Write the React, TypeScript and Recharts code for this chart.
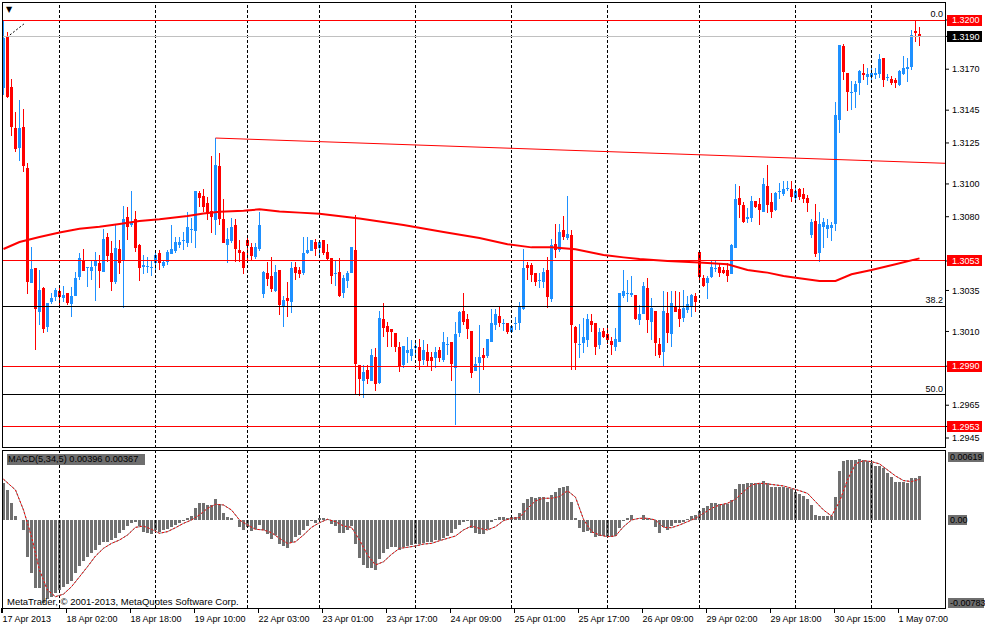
import React from 'react';
import { ComposedChart, Bar, Line, XAxis, YAxis, ReferenceLine } from 'recharts';

const FONT = '"Liberation Sans", Arial, sans-serif';
const BULL = '#1E90FF';
const BEAR = '#FF0000';
const HIST = '#707070';

// --- x axis: one label every 16 hourly bars ---
const timeLabels = [
  '17 Apr 2013', '18 Apr 02:00', '18 Apr 18:00', '19 Apr 10:00', '22 Apr 03:00',
  '23 Apr 01:00', '23 Apr 17:00', '24 Apr 09:00', '25 Apr 01:00', '25 Apr 17:00',
  '26 Apr 09:00', '29 Apr 02:00', '29 Apr 18:00', '30 Apr 15:00', '1 May 07:00',
];
const labelStep = 16;
// bar index of each day separator (dashed grid)
const dayBreaks = [14, 38, 61, 79, 103, 127, 151, 174, 198, 217];

// --- EURUSD H1 candles [open, high, low, close] ---
const ohlc: [number, number, number, number][] = [
  [1.31583, 1.31994, 1.31543, 1.31888], [1.31902, 1.31929, 1.31524, 1.31528], [1.31593, 1.31638, 1.31294, 1.31345],
  [1.31343, 1.31441, 1.31197, 1.31215], [1.31221, 1.31512, 1.31142, 1.31343], [1.31349, 1.31457, 1.31075, 1.31111],
  [1.31099, 1.31126, 1.30329, 1.30404], [1.30394, 1.30617, 1.30394, 1.30479], [1.30487, 1.30487, 1.29987, 1.30235],
  [1.30221, 1.30475, 1.30140, 1.30353], [1.30367, 1.30373, 1.30089, 1.30113], [1.30125, 1.30272, 1.30099, 1.30272],
  [1.30280, 1.30337, 1.30266, 1.30306], [1.30312, 1.30367, 1.30286, 1.30353], [1.30347, 1.30373, 1.30261, 1.30312],
  [1.30302, 1.30377, 1.30282, 1.30322], [1.30337, 1.30337, 1.30261, 1.30272], [1.30266, 1.30373, 1.30190, 1.30316],
  [1.30318, 1.30461, 1.30318, 1.30428], [1.30434, 1.30581, 1.30414, 1.30550], [1.30536, 1.30601, 1.30471, 1.30471],
  [1.30489, 1.30495, 1.30373, 1.30491], [1.30471, 1.30536, 1.30414, 1.30495], [1.30501, 1.30583, 1.30288, 1.30530],
  [1.30516, 1.30565, 1.30363, 1.30471], [1.30461, 1.30725, 1.30461, 1.30662], [1.30674, 1.30699, 1.30522, 1.30562],
  [1.30577, 1.30652, 1.30349, 1.30404], [1.30404, 1.30756, 1.30390, 1.30611], [1.30601, 1.30658, 1.30451, 1.30520],
  [1.30532, 1.30865, 1.30241, 1.30784], [1.30796, 1.30861, 1.30658, 1.30735], [1.30749, 1.30957, 1.30735, 1.30770],
  [1.30784, 1.30835, 1.30587, 1.30611], [1.30626, 1.30634, 1.30410, 1.30485], [1.30491, 1.30566, 1.30451, 1.30505],
  [1.30493, 1.30556, 1.30455, 1.30498], [1.30485, 1.30536, 1.30440, 1.30495], [1.30516, 1.30577, 1.30455, 1.30566],
  [1.30581, 1.30597, 1.30475, 1.30516], [1.30499, 1.30536, 1.30485, 1.30526], [1.30526, 1.30597, 1.30505, 1.30587],
  [1.30573, 1.30749, 1.30573, 1.30603], [1.30593, 1.30678, 1.30581, 1.30648], [1.30627, 1.30678, 1.30607, 1.30648],
  [1.30654, 1.30709, 1.30597, 1.30656], [1.30642, 1.30831, 1.30613, 1.30735], [1.30723, 1.30790, 1.30638, 1.30727],
  [1.30715, 1.30957, 1.30611, 1.30957], [1.30947, 1.30959, 1.30861, 1.30912], [1.30926, 1.30967, 1.30831, 1.30861],
  [1.30882, 1.30922, 1.30780, 1.30825], [1.30835, 1.31170, 1.30703, 1.30796], [1.30780, 1.31278, 1.30688, 1.31115],
  [1.31109, 1.31187, 1.30749, 1.30784], [1.30784, 1.30906, 1.30642, 1.30642], [1.30627, 1.30729, 1.30516, 1.30662],
  [1.30654, 1.30794, 1.30638, 1.30739], [1.30749, 1.30784, 1.30526, 1.30601], [1.30597, 1.30658, 1.30526, 1.30577],
  [1.30583, 1.30593, 1.30451, 1.30489], [1.30658, 1.30682, 1.30520, 1.30621], [1.30617, 1.30638, 1.30536, 1.30560],
  [1.30552, 1.30638, 1.30540, 1.30613], [1.30601, 1.30831, 1.30593, 1.30749], [1.30329, 1.30471, 1.30302, 1.30461],
  [1.30455, 1.30526, 1.30379, 1.30420], [1.30438, 1.30552, 1.30343, 1.30357], [1.30347, 1.30505, 1.30343, 1.30461],
  [1.30475, 1.30475, 1.30200, 1.30261], [1.30251, 1.30318, 1.30129, 1.30292], [1.30302, 1.30404, 1.30190, 1.30288],
  [1.30282, 1.30522, 1.30215, 1.30489], [1.30491, 1.30522, 1.30414, 1.30459], [1.30475, 1.30495, 1.30424, 1.30451],
  [1.30459, 1.30674, 1.30444, 1.30581], [1.30581, 1.30674, 1.30573, 1.30597], [1.30593, 1.30658, 1.30593, 1.30658],
  [1.30644, 1.30664, 1.30560, 1.30601], [1.30611, 1.30658, 1.30556, 1.30648], [1.30658, 1.30658, 1.30566, 1.30577],
  [1.30583, 1.30634, 1.30530, 1.30542], [1.30546, 1.30546, 1.30388, 1.30440], [1.30451, 1.30536, 1.30377, 1.30455],
  [1.30461, 1.30546, 1.30312, 1.30318], [1.30333, 1.30444, 1.30302, 1.30428], [1.30410, 1.30469, 1.30363, 1.30455],
  [1.30459, 1.30617, 1.30459, 1.30613], [1.30597, 1.30810, 1.29712, 1.29900], [1.29895, 1.29895, 1.29708, 1.29810],
  [1.29800, 1.29895, 1.29696, 1.29855], [1.29865, 1.29895, 1.29778, 1.29810], [1.29800, 1.29993, 1.29800, 1.29956],
  [1.29942, 1.29997, 1.29737, 1.29778], [1.29788, 1.30225, 1.29778, 1.30180], [1.30174, 1.30272, 1.30068, 1.30123],
  [1.30133, 1.30160, 1.30007, 1.30099], [1.30115, 1.30115, 1.30007, 1.30095], [1.30089, 1.30089, 1.29977, 1.30003],
  [1.30007, 1.30034, 1.29851, 1.29889], [1.29895, 1.30011, 1.29879, 1.30011], [1.29971, 1.30064, 1.29906, 1.29987],
  [1.29952, 1.30048, 1.29920, 1.29993], [1.30001, 1.30038, 1.29946, 1.30011], [1.30003, 1.30054, 1.29865, 1.29922],
  [1.29926, 1.30048, 1.29895, 1.29987], [1.29973, 1.30024, 1.29885, 1.29922], [1.29946, 1.29977, 1.29861, 1.29922],
  [1.29940, 1.30007, 1.29879, 1.29977], [1.29987, 1.30007, 1.29916, 1.29940], [1.29926, 1.30095, 1.29916, 1.30034],
  [1.30022, 1.30068, 1.29956, 1.30025], [1.30034, 1.30034, 1.29800, 1.29900], [1.29879, 1.30160, 1.29530, 1.30085],
  [1.30089, 1.30225, 1.30068, 1.30217], [1.30225, 1.30333, 1.30140, 1.30160], [1.30176, 1.30205, 1.30054, 1.30115],
  [1.30103, 1.30103, 1.29814, 1.29849], [1.29859, 1.29946, 1.29859, 1.29900], [1.29906, 1.30140, 1.29723, 1.29946],
  [1.29956, 1.29997, 1.29865, 1.29940], [1.29952, 1.30054, 1.29936, 1.30054], [1.30038, 1.30237, 1.30038, 1.30154],
  [1.30140, 1.30237, 1.30109, 1.30207], [1.30194, 1.30255, 1.30129, 1.30150], [1.30147, 1.30174, 1.30105, 1.30150],
  [1.30154, 1.30154, 1.30083, 1.30099], [1.30095, 1.30135, 1.30089, 1.30135], [1.30146, 1.30190, 1.30109, 1.30150],
  [1.30150, 1.30278, 1.30109, 1.30257], [1.30237, 1.30603, 1.30231, 1.30489], [1.30505, 1.30522, 1.30414, 1.30485],
  [1.30505, 1.30516, 1.30404, 1.30444], [1.30459, 1.30459, 1.30377, 1.30404], [1.30408, 1.30455, 1.30367, 1.30412],
  [1.30404, 1.30485, 1.30367, 1.30461], [1.30475, 1.30556, 1.30241, 1.30312], [1.30298, 1.30664, 1.30282, 1.30627],
  [1.30632, 1.30754, 1.30546, 1.30597], [1.30597, 1.30754, 1.30587, 1.30709], [1.30719, 1.30806, 1.30658, 1.30678],
  [1.30672, 1.30928, 1.30658, 1.30693], [1.30688, 1.30719, 1.29865, 1.30140], [1.30129, 1.30135, 1.29865, 1.30032],
  [1.30022, 1.30144, 1.29940, 1.30025], [1.30032, 1.30180, 1.29967, 1.30068], [1.30048, 1.30207, 1.30003, 1.30176],
  [1.30164, 1.30207, 1.30099, 1.30140], [1.30150, 1.30150, 1.29956, 1.30007], [1.30017, 1.30123, 1.29993, 1.30099],
  [1.30103, 1.30123, 1.30058, 1.30068], [1.30083, 1.30129, 1.30022, 1.30048], [1.30044, 1.30068, 1.29956, 1.30017],
  [1.30007, 1.30119, 1.29981, 1.30054], [1.30038, 1.30337, 1.30038, 1.30337], [1.30318, 1.30475, 1.30302, 1.30347],
  [1.30329, 1.30414, 1.30282, 1.30333], [1.30322, 1.30440, 1.30312, 1.30337], [1.30322, 1.30322, 1.30170, 1.30176],
  [1.30170, 1.30261, 1.30140, 1.30207], [1.30205, 1.30404, 1.30205, 1.30377], [1.30363, 1.30424, 1.30093, 1.30170],
  [1.30160, 1.30302, 1.30048, 1.30241], [1.30225, 1.30225, 1.29950, 1.30032], [1.30024, 1.30062, 1.29940, 1.29956],
  [1.29973, 1.30347, 1.29891, 1.30225], [1.30211, 1.30343, 1.30028, 1.30093], [1.30083, 1.30347, 1.30003, 1.30272],
  [1.30251, 1.30347, 1.30221, 1.30221], [1.30237, 1.30343, 1.30129, 1.30174], [1.30180, 1.30353, 1.30156, 1.30241],
  [1.30231, 1.30318, 1.30211, 1.30268], [1.30251, 1.30329, 1.30190, 1.30322], [1.30316, 1.30333, 1.30221, 1.30282],
  [1.30583, 1.30583, 1.30408, 1.30434], [1.30424, 1.30444, 1.30373, 1.30379], [1.30394, 1.30440, 1.30298, 1.30428],
  [1.30434, 1.30536, 1.30424, 1.30491], [1.30485, 1.30536, 1.30465, 1.30489], [1.30491, 1.30516, 1.30434, 1.30459],
  [1.30475, 1.30495, 1.30449, 1.30459], [1.30475, 1.30516, 1.30404, 1.30440], [1.30451, 1.30632, 1.30451, 1.30627],
  [1.30611, 1.30998, 1.30607, 1.30908], [1.30912, 1.30987, 1.30794, 1.30871], [1.30871, 1.30888, 1.30760, 1.30770],
  [1.30784, 1.30855, 1.30760, 1.30800], [1.30794, 1.30928, 1.30770, 1.30896], [1.30896, 1.30896, 1.30851, 1.30861],
  [1.30876, 1.30912, 1.30749, 1.30841], [1.30831, 1.31034, 1.30831, 1.30998], [1.30987, 1.31115, 1.30821, 1.30871],
  [1.30892, 1.30943, 1.30794, 1.30831], [1.30841, 1.30953, 1.30835, 1.30943], [1.30955, 1.31004, 1.30908, 1.30959],
  [1.30939, 1.31018, 1.30928, 1.30969], [1.30973, 1.31018, 1.30957, 1.30977], [1.30969, 1.31018, 1.30892, 1.30922],
  [1.30912, 1.30977, 1.30902, 1.30957], [1.30969, 1.30977, 1.30902, 1.30922], [1.30937, 1.30973, 1.30882, 1.30908],
  [1.30912, 1.30932, 1.30827, 1.30882], [1.30688, 1.30786, 1.30672, 1.30766], [1.30774, 1.30878, 1.30556, 1.30571],
  [1.30577, 1.30831, 1.30522, 1.30756], [1.30739, 1.30790, 1.30611, 1.30766], [1.30723, 1.30786, 1.30672, 1.30749],
  [1.30729, 1.30770, 1.30652, 1.30749], [1.30754, 1.31498, 1.30713, 1.31420], [1.31390, 1.31847, 1.31309, 1.31847],
  [1.31843, 1.31852, 1.31634, 1.31685], [1.31675, 1.31675, 1.31445, 1.31563], [1.31559, 1.31628, 1.31451, 1.31563],
  [1.31563, 1.31628, 1.31465, 1.31608], [1.31614, 1.31695, 1.31542, 1.31689], [1.31675, 1.31730, 1.31634, 1.31664],
  [1.31654, 1.31705, 1.31603, 1.31669], [1.31654, 1.31705, 1.31624, 1.31675], [1.31664, 1.31705, 1.31640, 1.31675],
  [1.31669, 1.31791, 1.31644, 1.31762], [1.31766, 1.31766, 1.31593, 1.31634], [1.31650, 1.31669, 1.31628, 1.31654],
  [1.31640, 1.31660, 1.31603, 1.31618], [1.31634, 1.31644, 1.31587, 1.31618], [1.31603, 1.31695, 1.31599, 1.31689],
  [1.31669, 1.31782, 1.31664, 1.31709], [1.31701, 1.31766, 1.31624, 1.31715], [1.31715, 1.31939, 1.31695, 1.31908],
  [1.31935, 1.32000, 1.31868, 1.31919], [1.31913, 1.31959, 1.31843, 1.31904],
];

// --- moving average readings [bar index, price] ---
const maPoints: [number, number][] = [
  [0, 1.30603], [4, 1.30646], [9, 1.30676], [14, 1.30704], [19, 1.30727], [24, 1.30739], [29, 1.30756],
  [34, 1.30774], [39, 1.30784], [46, 1.30804], [50, 1.30820], [54, 1.30831], [60, 1.30837], [64, 1.30845],
  [69, 1.30832], [74, 1.30825], [79, 1.30818], [89, 1.30789], [100, 1.30750], [110, 1.30707], [119, 1.30670],
  [126, 1.30632], [132, 1.30613], [137, 1.30613], [143, 1.30601], [150, 1.30567], [155, 1.30552], [159, 1.30542],
  [166, 1.30530], [174, 1.30520], [181, 1.30510], [186, 1.30475], [191, 1.30459], [195, 1.30438], [199, 1.30424],
  [204, 1.30408], [208, 1.30408], [212, 1.30449], [217, 1.30475], [223, 1.30510], [229, 1.30546],
];

// --- MACD(5,34,5) histogram, one value per bar ---
const macdHist = [
  0.00337, 0.00271, 0.00158, 0.00039, 0.00003, -0.00086, -0.00331, -0.00468, -0.00602, -0.00608,
  -0.00736, -0.00706, -0.00682, -0.00653, -0.00623, -0.00593, -0.00569, -0.00539, -0.00474, -0.00408,
  -0.00361, -0.00331, -0.00295, -0.00265, -0.00221, -0.00191, -0.00191, -0.00176, -0.00161, -0.00116,
  -0.00086, -0.00051, -0.00021, -0.00015, -0.00051, -0.00101, -0.00116, -0.00125, -0.00086, -0.00101,
  -0.00086, -0.00075, -0.00063, -0.00042, -0.00027, -0.00006, 0.00024, 0.00039, 0.00113, 0.00152,
  0.00152, 0.00137, 0.00137, 0.00188, 0.00146, 0.00063, 0.00027, 0.00018, 0.00000, -0.00057,
  -0.00086, -0.00063, -0.00095, -0.00080, -0.00042, -0.00086, -0.00125, -0.00167, -0.00131, -0.00215,
  -0.00229, -0.00244, -0.00191, -0.00152, -0.00131, -0.00086, -0.00048, -0.00006, -0.00027, 0.00018,
  0.00018, 0.00009, -0.00033, -0.00051, -0.00110, -0.00110, -0.00086, -0.00051, -0.00212, -0.00334,
  -0.00399, -0.00429, -0.00423, -0.00444, -0.00346, -0.00295, -0.00256, -0.00235, -0.00241, -0.00265,
  -0.00241, -0.00229, -0.00221, -0.00212, -0.00212, -0.00206, -0.00191, -0.00197, -0.00176, -0.00176,
  -0.00155, -0.00140, -0.00116, -0.00080, -0.00042, -0.00015, -0.00006, -0.00066, -0.00110, -0.00125,
  -0.00125, -0.00080, -0.00012, 0.00015, 0.00027, 0.00027, 0.00024, 0.00027, 0.00033, 0.00063,
  0.00158, 0.00188, 0.00212, 0.00197, 0.00206, 0.00206, 0.00167, 0.00226, 0.00250, 0.00286,
  0.00295, 0.00307, 0.00167, 0.00018, -0.00066, -0.00104, -0.00095, -0.00116, -0.00146, -0.00140,
  -0.00140, -0.00146, -0.00152, -0.00140, -0.00066, -0.00006, 0.00024, 0.00048, 0.00003, 0.00003,
  0.00048, 0.00018, 0.00009, -0.00063, -0.00110, -0.00063, -0.00086, -0.00051, -0.00027, -0.00027,
  -0.00012, 0.00012, 0.00039, 0.00048, 0.00086, 0.00107, 0.00128, 0.00152, 0.00158, 0.00146,
  0.00146, 0.00146, 0.00182, 0.00280, 0.00325, 0.00325, 0.00331, 0.00337, 0.00331, 0.00331,
  0.00352, 0.00331, 0.00301, 0.00301, 0.00301, 0.00301, 0.00292, 0.00277, 0.00256, 0.00235,
  0.00218, 0.00188, 0.00137, 0.00048, 0.00039, 0.00039, 0.00039, 0.00039, 0.00212, 0.00441,
  0.00530, 0.00539, 0.00539, 0.00539, 0.00545, 0.00539, 0.00533, 0.00516, 0.00489, 0.00489,
  0.00465, 0.00420, 0.00384, 0.00346, 0.00346, 0.00346, 0.00337, 0.00375, 0.00381, 0.00396,
];

// --- MACD signal readings [bar index, value] ---
const macdSignal: [number, number][] = [
  [0, 0.00367], [3, 0.00271], [5, 0.00092], [7, -0.00146], [9, -0.00444], [11, -0.00623], [13, -0.00682],
  [15, -0.00659], [17, -0.00593], [19, -0.00504], [21, -0.00414], [23, -0.00319], [25, -0.00250], [27, -0.00206],
  [29, -0.00176], [31, -0.00131], [33, -0.00063], [35, -0.00051], [37, -0.00080], [39, -0.00116], [41, -0.00101],
  [43, -0.00066], [45, -0.00027], [47, 0.00003], [49, 0.00048], [51, 0.00107], [53, 0.00143], [55, 0.00137],
  [57, 0.00092], [59, 0.00003], [61, -0.00042], [63, -0.00080], [65, -0.00086], [67, -0.00110], [69, -0.00161],
  [71, -0.00206], [73, -0.00191], [75, -0.00131], [77, -0.00063], [79, -0.00021], [81, 0.00009], [83, -0.00012],
  [85, -0.00051], [87, -0.00063], [89, -0.00176], [91, -0.00310], [93, -0.00399], [95, -0.00370], [97, -0.00304],
  [99, -0.00250], [101, -0.00241], [103, -0.00229], [105, -0.00212], [107, -0.00206], [109, -0.00182], [111, -0.00161],
  [113, -0.00140], [115, -0.00086], [117, -0.00051], [119, -0.00072], [121, -0.00086], [123, -0.00057], [125, -0.00003],
  [127, 0.00018], [129, 0.00024], [131, 0.00107], [133, 0.00173], [135, 0.00197], [137, 0.00197], [139, 0.00212],
  [141, 0.00265], [143, 0.00206], [145, 0.00009], [147, -0.00101], [149, -0.00131], [151, -0.00146], [153, -0.00140],
  [155, -0.00057], [157, 0.00003], [159, 0.00018], [161, 0.00018], [163, 0.00003], [165, -0.00063], [167, -0.00066],
  [169, -0.00042], [171, -0.00012], [173, 0.00018], [175, 0.00063], [177, 0.00107], [179, 0.00137], [181, 0.00152],
  [183, 0.00188], [185, 0.00256], [187, 0.00316], [189, 0.00331], [191, 0.00325], [193, 0.00316], [195, 0.00307],
  [197, 0.00286], [199, 0.00265], [201, 0.00241], [203, 0.00167], [205, 0.00092], [207, 0.00039], [209, 0.00167],
  [211, 0.00361], [213, 0.00504], [215, 0.00533], [217, 0.00524], [219, 0.00504], [221, 0.00450], [223, 0.00396],
  [225, 0.00355], [227, 0.00346], [229, 0.00367],
];

// --- price levels: where each line sits, and the tag printed for it ---
const redLevels = [
  { price: 1.32000, tag: '1.3200' },
  { price: 1.30530, tag: '1.3053' },
  { price: 1.29888, tag: '1.2990' },
  { price: 1.29520, tag: '1.2953' },
];
const bidPrice = 1.3190;
const plainTicks = [1.3170, 1.3145, 1.3125, 1.3100, 1.3080, 1.3035, 1.3010, 1.2965, 1.2945];
const fibHigh = 1.3200;
const fibLow = 1.2743;
const fibLevels = [38.2, 50.0];
const trendLine = [{ i: 53, p: 1.31280 }, { i: 235.375, p: 1.31126 }];
const fibDiagonal = [{ i: 1.6, p: 1.31909 }, { i: 5.1, p: 1.31976 }];

const priceDomain: [number, number] = [1.29389, 1.32110];
const macdDomain: [number, number] = [-0.00783, 0.00619];
const xDomain: [number, number] = [-0.125, 235.375];

const maMap = new Map(maPoints);
const sigMap = new Map(macdSignal);
const data = ohlc.map(([o, h, l, c], i) => ({
  i, o, h, l, c,
  range: [l, h],
  hist: macdHist[i],
  sig: sigMap.has(i) ? sigMap.get(i) : null,
  ma: maMap.has(i) ? maMap.get(i) : null,
}));

const Candle = (props: any) => {
  const { x, y, width, height, payload } = props;
  if (!payload) return null;
  const { o, h, l, c } = payload;
  const color = c >= o ? BULL : BEAR;
  const k = h > l ? height / (h - l) : 0;
  const top = y + (h - Math.max(o, c)) * k;
  const bh = Math.max(1, Math.abs(o - c) * k);
  const cx = x + width / 2;
  return (
    <g shapeRendering="crispEdges">
      <rect x={cx - 0.5} y={y} width={1} height={Math.max(1, height)} fill={color} />
      <rect x={cx - 1.5} y={top} width={3} height={bh} fill={color} />
    </g>
  );
};

const PriceTick = (props: any) => {
  const { x, y, payload } = props;
  const v = payload.value;
  const red = redLevels.find((r) => Math.abs(r.price - v) < 1e-7);
  const isBid = Math.abs(bidPrice - v) < 1e-7;
  if (red || isBid) {
    return (
      <g>
        <rect x={x - 5} y={y - 5.5} width={35} height={11} fill={isBid ? '#000' : BEAR} shapeRendering="crispEdges" />
        <text x={x} y={y} dy="0.35em" fontSize={9} fontFamily={FONT} fill="#fff">{red ? red.tag : v.toFixed(4)}</text>
      </g>
    );
  }
  return (
    <text x={x} y={y} dy="0.35em" fontSize={9} fontFamily={FONT} fill="#000">{v.toFixed(4)}</text>
  );
};

const MacdTick = (props: any) => {
  const { x, y, payload } = props;
  const v = payload.value;
  const txt = v === 0 ? '0.00' : v.toFixed(5);
  const dy = v === macdDomain[1] ? 5.5 : v === macdDomain[0] ? -5 : 0;
  const w = v === 0 ? 19 : 36;
  return (
    <g>
      <rect x={x - 4} y={y + dy - 5} width={w} height={10} fill="#6E6E6E" shapeRendering="crispEdges" />
      <text x={x - 2} y={y + dy} dy="0.35em" fontSize={9} fontFamily={FONT} fill="#000">{txt}</text>
    </g>
  );
};

const TimeTick = (props: any) => {
  const { x, y, payload } = props;
  const label = timeLabels[Math.round(payload.value / labelStep)];
  return (
    <g>
      <line x1={x - 1.5} x2={x - 1.5} y1={y} y2={y + 5} stroke="#000" shapeRendering="crispEdges" />
      <text x={x - 1} y={y + 13.5} fontSize={9} fontFamily={FONT} fill="#000">{label}</text>
    </g>
  );
};

const fibPrice = (lvl: number) => fibHigh - (fibHigh - fibLow) * lvl / 100;

const levelLabel = (text: string) => (p: any) => {
  const vb = p.viewBox;
  if (!vb) return null;
  return (
    <text x={vb.x + vb.width - 2} y={vb.y - 3} textAnchor="end" fontSize={9} fontFamily={FONT} fill="#000">{text}</text>
  );
};

export default function App() {
  const timeTicks = timeLabels.map((_, k) => k * labelStep);
  const priceTicks = [...redLevels.map((r) => r.price), bidPrice, ...plainTicks].sort((a, b) => b - a);
  return (
    <div style={{ position: 'absolute', left: 0, top: 0, width: 985, height: 627, background: '#fff', overflow: 'hidden', fontFamily: FONT }}>
      {/* price panel */}
      <div style={{ position: 'absolute', left: 0, top: 0 }}>
        <ComposedChart width={985} height={450} data={data} margin={{ top: 2, right: 0, left: 3, bottom: 2 }}>
          <XAxis dataKey="i" type="number" domain={xDomain} hide allowDataOverflow />
          <YAxis
            orientation="right"
            width={40}
            type="number"
            domain={priceDomain}
            allowDataOverflow
            ticks={priceTicks}
            interval={0}
            axisLine={false}
            tickLine={{ stroke: '#000' }}
            tickSize={4}
            tickMargin={3}
            tick={<PriceTick />}
          />
          {dayBreaks.map((d) => (
            <ReferenceLine key={d} x={d} stroke="#000" strokeDasharray="3 2" shapeRendering="crispEdges" />
          ))}
          {fibLevels.map((lvl) => (
            <ReferenceLine key={lvl} y={fibPrice(lvl)} stroke="#000" shapeRendering="crispEdges" label={levelLabel(lvl.toFixed(1))} />
          ))}
          <ReferenceLine y={bidPrice} stroke="#C0C0C0" shapeRendering="crispEdges" />
          {redLevels.map((r) => (
            <ReferenceLine key={r.tag} y={r.price} stroke={BEAR} shapeRendering="crispEdges" label={r.price === fibHigh ? levelLabel('0.0') : undefined} />
          ))}
          <ReferenceLine
            segment={[{ x: trendLine[0].i, y: trendLine[0].p }, { x: trendLine[1].i, y: trendLine[1].p }]}
            stroke={BEAR}
          />
          <ReferenceLine
            segment={[{ x: fibDiagonal[0].i, y: fibDiagonal[0].p }, { x: fibDiagonal[1].i, y: fibDiagonal[1].p }]}
            stroke="#000"
            strokeDasharray="2 2"
          />
          <Bar dataKey="range" barSize={3} isAnimationActive={false} shape={(p: any) => <Candle {...p} />} />
          <Line dataKey="ma" type="linear" stroke={BEAR} strokeWidth={2} dot={false} connectNulls isAnimationActive={false} />
        </ComposedChart>
      </div>

      {/* MACD panel */}
      <div style={{ position: 'absolute', left: 0, top: 450 }}>
        <ComposedChart width={985} height={177} data={data} margin={{ top: 1, right: 0, left: 3, bottom: 0 }}>
          <XAxis
            dataKey="i"
            type="number"
            domain={xDomain}
            allowDataOverflow
            ticks={timeTicks}
            interval={0}
            height={19}
            axisLine={false}
            tickLine={false}
            tickSize={0}
            tickMargin={0}
            tick={<TimeTick />}
          />
          <YAxis
            orientation="right"
            width={40}
            type="number"
            domain={macdDomain}
            allowDataOverflow
            ticks={[macdDomain[1], 0, macdDomain[0]]}
            interval={0}
            axisLine={false}
            tickLine={false}
            tickSize={4}
            tickMargin={3}
            tick={<MacdTick />}
          />
          {dayBreaks.map((d) => (
            <ReferenceLine key={d} x={d} stroke="#000" strokeDasharray="3 2" shapeRendering="crispEdges" />
          ))}
          <Bar dataKey="hist" fill={HIST} barSize={3} isAnimationActive={false} shapeRendering="crispEdges" />
          <Line dataKey="sig" type="linear" stroke="#808080" strokeWidth={1} dot={false} connectNulls isAnimationActive={false} />
          <Line dataKey="sig" type="linear" stroke={BEAR} strokeWidth={1} strokeDasharray="2 2" dot={false} connectNulls isAnimationActive={false} />
        </ComposedChart>
      </div>

      {/* panel frames */}
      <div style={{ position: 'absolute', left: 2, top: 2, width: 944, height: 446, border: '1px solid #000', boxSizing: 'border-box', pointerEvents: 'none' }} />
      <div style={{ position: 'absolute', left: 2, top: 450, width: 944, height: 159, border: '1px solid #000', boxSizing: 'border-box', pointerEvents: 'none' }} />

      <div style={{ position: 'absolute', left: 6, top: 5, fontSize: 8, lineHeight: '10px', fontFamily: '"DejaVu Sans", sans-serif' }}>▼</div>
      <div style={{ position: 'absolute', left: 7, top: 454, height: 11, padding: '0 7px 0 1px', background: '#6E6E6E', color: '#000', fontSize: 9.2, lineHeight: '11px', whiteSpace: 'nowrap' }}>
        MACD(5,34,5) 0.00396 0.00367
      </div>
      <div style={{ position: 'absolute', left: 7, top: 596, color: '#000', fontSize: 9.5, lineHeight: '11px', whiteSpace: 'nowrap' }}>
        MetaTrader, © 2001-2013, MetaQuotes Software Corp.
      </div>
    </div>
  );
}
